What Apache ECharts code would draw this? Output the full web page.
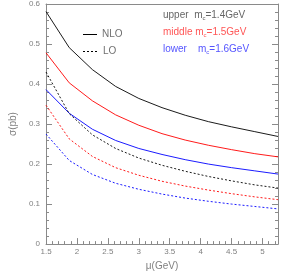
<!DOCTYPE html>
<html><head><meta charset="utf-8">
<script src="https://cdn.jsdelivr.net/npm/echarts@6/dist/echarts.min.js"></script>
<style>html,body{margin:0;padding:0;background:#fff}#c{width:282px;height:276px}</style>
</head><body><div id="c"></div>
<script>
const mu = [1.5, 1.875, 2.25, 2.625, 3.0, 3.375, 3.75, 4.125, 4.5, 4.875, 5.25];
const nloUpper  = [0.581, 0.491, 0.436, 0.394, 0.364, 0.341, 0.322, 0.306, 0.293, 0.281, 0.269];
const nloMiddle = [0.478, 0.403, 0.358, 0.323, 0.297, 0.276, 0.260, 0.247, 0.236, 0.226, 0.218];
const nloLower  = [0.386, 0.327, 0.287, 0.259, 0.239, 0.224, 0.211, 0.200, 0.191, 0.183, 0.175];
const loUpper   = [0.430, 0.326, 0.273, 0.239, 0.215, 0.197, 0.182, 0.169, 0.158, 0.148, 0.140];
const loMiddle  = [0.347, 0.263, 0.219, 0.191, 0.172, 0.157, 0.145, 0.135, 0.126, 0.118, 0.111];
const loLower   = [0.275, 0.209, 0.174, 0.152, 0.137, 0.125, 0.115, 0.107, 0.100, 0.094, 0.088];
const yTicks = [0, 0.1, 0.2, 0.3, 0.4, 0.5, 0.6];
const xTicks = [1.5, 2, 2.5, 3, 3.5, 4, 4.5, 5];

const FONT = 'Liberation Sans';
const AX = '#8a8a8a';
const pair = (xs, ys) => xs.map((x, i) => [x, ys[i]]);
function line(name, data, color, dashed) {
  return { name, type: 'line', data: pair(mu, data), showSymbol: false, symbol: 'none',
    lineStyle: { color, width: 0.9, type: dashed ? [2, 2] : 'solid' }, silent: true, animation: false };
}
const chart = echarts.init(document.getElementById('c'), null, { renderer: 'canvas' });
chart.setOption({
  animation: false,
  grid: { left: 30, right: 4, top: 2, bottom: 22, show: false },
  xAxis: [
    { type: 'value', position: 'bottom', min: 1.5, max: 5.25, interval: 0.5,
      axisLine: { lineStyle: { color: AX } }, splitLine: { show: false },
      axisTick: { inside: true, length: 6, lineStyle: { color: AX } },
      axisLabel: { fontFamily: FONT, fontSize: 8, color: '#808080', margin: 4, showMaxLabel: false,
        formatter: v => (xTicks.includes(+v.toFixed(3)) ? String(v) : '') },
      name: 'μ(GeV)', nameLocation: 'middle', nameGap: 13,
      nameTextStyle: { fontFamily: FONT, fontSize: 10, color: '#808080' } },
    { type: 'value', position: 'bottom', min: 1.5, max: 5.25, interval: 0.1,
      axisLine: { show: false }, splitLine: { show: false },
      axisTick: { inside: true, length: 3, lineStyle: { color: AX } }, axisLabel: { show: false } },
    { type: 'value', position: 'top', min: 1.5, max: 5.25, interval: 0.5,
      axisLine: { lineStyle: { color: AX } }, splitLine: { show: false },
      axisTick: { show: false }, axisLabel: { show: false } }
  ],
  yAxis: [
    { type: 'value', position: 'left', min: 0, max: 0.6, interval: 0.1,
      axisLine: { show: true, lineStyle: { color: AX } }, splitLine: { show: false },
      axisTick: { show: true, inside: true, length: 6, lineStyle: { color: AX } },
      minorTick: { show: true, splitNumber: 5, length: 3, lineStyle: { color: AX } },
      axisLabel: { fontFamily: FONT, fontSize: 8, color: '#808080', margin: 6,
        formatter: v => (yTicks.includes(+v.toFixed(3)) ? String(+v.toFixed(1)) : '') },
      name: 'σ(pb)', nameLocation: 'middle', nameGap: 20, nameRotate: 90,
      nameTextStyle: { fontFamily: FONT, fontSize: 10, color: '#808080' } },
    { type: 'value', position: 'right', min: 0, max: 0.6, interval: 0.1,
      axisLine: { show: true, lineStyle: { color: AX } }, splitLine: { show: false },
      axisTick: { show: true, inside: true, length: 6, lineStyle: { color: AX } },
      minorTick: { show: true, splitNumber: 5, length: 3, lineStyle: { color: AX } },
      axisLabel: { show: false } }
  ],
  series: [
    line('NLO upper', nloUpper, '#000000', false),
    line('NLO middle', nloMiddle, '#ff0000', false),
    line('NLO lower', nloLower, '#0000ff', false),
    line('LO upper', loUpper, '#000000', true),
    line('LO middle', loMiddle, '#ff0000', true),
    line('LO lower', loLower, '#0000ff', true)
  ],
  graphic: [
    { type: 'line', shape: { x1: 83, y1: 34.5, x2: 97, y2: 34.5 }, style: { stroke: '#000', lineWidth: 1 } },
    { type: 'line', shape: { x1: 83, y1: 51.5, x2: 97, y2: 51.5 }, style: { stroke: '#000', lineWidth: 1, lineDash: [2, 2] } },
    { type: 'text', left: 102, top: 29, style: { text: 'NLO', fontFamily: FONT, fontSize: 10, fill: '#707070' } },
    { type: 'text', left: 103, top: 46, style: { text: 'LO', fontFamily: FONT, fontSize: 10, fill: '#707070' } },
    { type: 'text', left: 163, top: 10, style: { text: '{t|upper  m}{s|c}{t|=1.4GeV}', fill: '#666',
      rich: { t: { fontFamily: FONT, fontSize: 10, fill: '#666' }, s: { fontFamily: FONT, fontSize: 6, fill: '#666', padding: [6, 0, 0, 0] } } } },
    { type: 'text', left: 163, top: 27, style: { text: '{t|middle m}{s|c}{t|=1.5GeV}', fill: '#ff5555',
      rich: { t: { fontFamily: FONT, fontSize: 10, fill: '#ff5555' }, s: { fontFamily: FONT, fontSize: 6, fill: '#ff5555', padding: [6, 0, 0, 0] } } } },
    { type: 'text', left: 163, top: 44, style: { text: '{t|lower    m}{s|c}{t|=1.6GeV}', fill: '#5555ff',
      rich: { t: { fontFamily: FONT, fontSize: 10, fill: '#5555ff' }, s: { fontFamily: FONT, fontSize: 6, fill: '#5555ff', padding: [6, 0, 0, 0] } } } }
  ]
});
</script></body></html>
